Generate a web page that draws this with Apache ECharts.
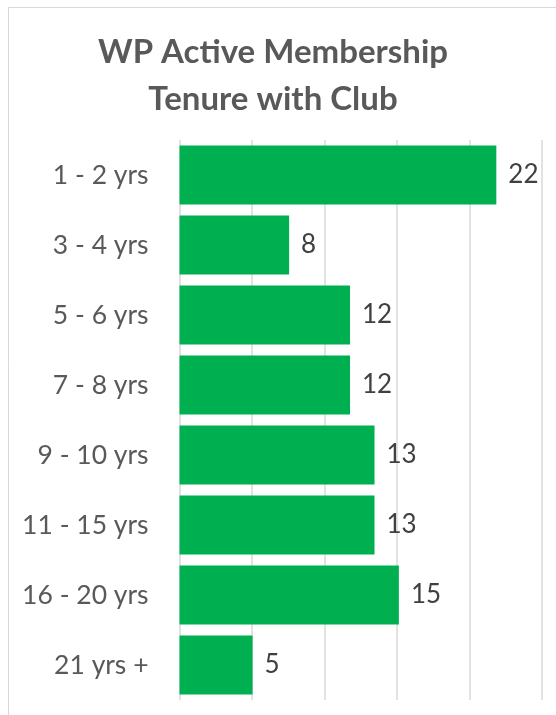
<!DOCTYPE html>
<html><head><meta charset="utf-8">
<script src="https://cdn.jsdelivr.net/npm/echarts@6/dist/echarts.min.js"></script>
<style>html,body{margin:0;padding:0;background:#fff}#c{width:556px;height:715px}</style>
</head><body><div id="c"></div>
<script>
const categories = ['1 - 2 yrs','3 - 4 yrs','5 - 6 yrs','7 - 8 yrs','9 - 10 yrs','11 - 15 yrs','16 - 20 yrs','21 yrs +'];
// bar lengths (labels shown rounded, as in the reference)
const values = [21.85, 7.56, 11.76, 11.76, 13.45, 13.45, 15.13, 5.04];
const titleLines = ['WP Active Membership', 'Tenure with Club'];

const chart = echarts.init(document.getElementById('c'), null, {renderer:'canvas'});
chart.setOption({
  animation: false,
  graphic: [{
    type: 'rect', shape: {x: 8.5, y: 7.5, width: 560, height: 720},
    style: {fill: 'none', stroke: '#D9D9D9', lineWidth: 1}, z: -1
  }],
  title: {
    text: titleLines.join('\n'),
    left: 268, top: 24, textAlign: 'center',
    textStyle: {fontFamily: 'Lato', fontWeight: 'bold', fontSize: 33, color: '#595959', lineHeight: 47}
  },
  grid: {left: 179.5, right: 14, top: 140, bottom: 15, containLabel: false},
  xAxis: {
    type: 'value', min: 0, max: 25, interval: 5,
    axisLabel: {show: false}, axisLine: {show: false}, axisTick: {show: false},
    splitLine: {show: true, lineStyle: {color: '#D9D9D9', width: 1.5}}
  },
  yAxis: {
    type: 'category', data: categories, inverse: true,
    axisLine: {show: false}, axisTick: {show: false},
    axisLabel: {margin: 31, fontFamily: 'Lato', fontSize: 26.5, color: '#595959'}
  },
  series: [{
    type: 'bar', data: values, barCategoryGap: '16%',
    itemStyle: {color: '#00B050'},
    label: {show: true, position: 'right', distance: 12, fontFamily: 'Lato', fontSize: 26, color: '#404040',
      formatter: p => String(Math.round(p.value))}
  }]
});
</script></body></html>
